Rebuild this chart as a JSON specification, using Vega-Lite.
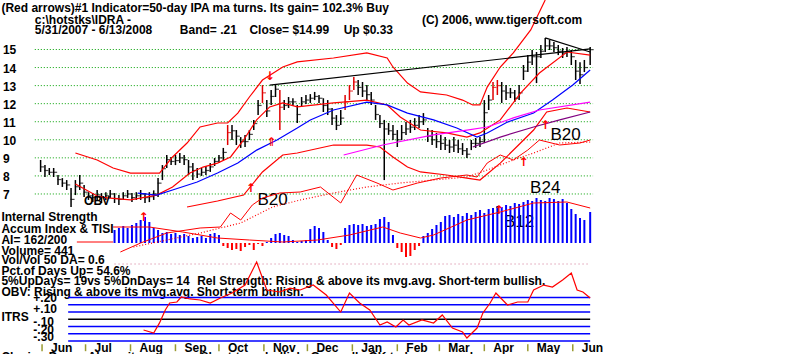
{
"$schema":"https://vega.github.io/schema/vega-lite/v6.json",
"width":800,"height":354,"autosize":"none","padding":0,"background":"white",
"config":{"view":{"stroke":null},"font":"Liberation Sans"},
"datasets":{
"bars":[
{"d":"2007-05-31","h":8.88,"l":8.22,"c":8.5},{"d":"2007-06-03","h":8.6,"l":7.94,"c":8.3},{"d":"2007-06-06","h":8.44,"l":8.05,"c":8.2},{"d":"2007-06-09","h":8.44,"l":7.94,"c":8.2},{"d":"2007-06-12","h":8.05,"l":7.5,"c":7.8},{"d":"2007-06-15","h":7.88,"l":7.39,"c":7.6},{"d":"2007-06-18","h":7.77,"l":7.22,"c":7.5},{"d":"2007-06-21","h":7.33,"l":6.28,"c":6.7},{"d":"2007-06-24","h":7.77,"l":6.94,"c":7.4},{"d":"2007-06-27","h":8.05,"l":7.22,"c":7.6},{"d":"2007-06-30","h":7.5,"l":6.83,"c":7.1},
{"d":"2007-07-03","h":7.1,"l":6.67,"c":6.9},{"d":"2007-07-06","h":7.05,"l":6.55,"c":6.8},{"d":"2007-07-09","h":7.22,"l":6.67,"c":6.95},{"d":"2007-07-12","h":7.05,"l":6.5,"c":6.8},{"d":"2007-07-15","h":7.1,"l":6.67,"c":6.9},{"d":"2007-07-18","h":7.22,"l":6.78,"c":7.0},{"d":"2007-07-21","h":7.05,"l":6.5,"c":6.75},{"d":"2007-07-24","h":6.94,"l":6.39,"c":6.7},{"d":"2007-07-27","h":7.1,"l":6.67,"c":6.9},{"d":"2007-07-30","h":7.22,"l":6.78,"c":7.0},
{"d":"2007-08-02","h":7.05,"l":6.55,"c":6.8},{"d":"2007-08-05","h":7.1,"l":6.67,"c":6.9},{"d":"2007-08-08","h":7.22,"l":6.67,"c":7.0},{"d":"2007-08-11","h":7.05,"l":6.5,"c":6.8},{"d":"2007-08-14","h":7.1,"l":6.55,"c":6.85},{"d":"2007-08-17","h":7.2,"l":6.67,"c":7.0},{"d":"2007-08-20","h":7.88,"l":6.83,"c":7.6},{"d":"2007-08-23","h":8.6,"l":7.77,"c":8.4},{"d":"2007-08-26","h":9.16,"l":8.44,"c":8.9},{"d":"2007-08-29","h":9.05,"l":8.6,"c":8.8},
{"d":"2007-09-01","h":9.16,"l":8.6,"c":8.85},{"d":"2007-09-04","h":9.27,"l":8.71,"c":9.0},{"d":"2007-09-07","h":9.16,"l":8.6,"c":8.9},{"d":"2007-09-10","h":8.88,"l":8.05,"c":8.5},{"d":"2007-09-13","h":8.71,"l":7.77,"c":8.3},{"d":"2007-09-16","h":8.44,"l":7.88,"c":8.1},{"d":"2007-09-19","h":8.44,"l":8.0,"c":8.2},{"d":"2007-09-22","h":8.55,"l":8.05,"c":8.3},{"d":"2007-09-25","h":8.71,"l":8.22,"c":8.5},{"d":"2007-09-28","h":8.99,"l":8.55,"c":8.8},
{"d":"2007-10-01","h":9.16,"l":8.71,"c":9.0},{"d":"2007-10-04","h":9.55,"l":8.88,"c":9.3},{"d":"2007-10-07","h":10.82,"l":9.71,"c":10.4,"sig":1},{"d":"2007-10-10","h":10.82,"l":9.99,"c":10.5},{"d":"2007-10-13","h":10.54,"l":9.71,"c":10.2},{"d":"2007-10-16","h":10.15,"l":9.55,"c":9.9},{"d":"2007-10-19","h":10.27,"l":9.6,"c":9.9},{"d":"2007-10-22","h":10.54,"l":9.99,"c":10.3},{"d":"2007-10-25","h":11.1,"l":10.54,"c":10.9},{"d":"2007-10-28","h":12.2,"l":11.37,"c":11.9},{"d":"2007-10-31","h":13.03,"l":12.04,"c":12.6,"sig":1},
{"d":"2007-11-03","h":12.2,"l":11.26,"c":11.6},{"d":"2007-11-06","h":12.76,"l":11.93,"c":12.4},{"d":"2007-11-09","h":13.03,"l":12.37,"c":12.8},{"d":"2007-11-12","h":12.76,"l":10.54,"c":11.8,"sig":1},{"d":"2007-11-15","h":12.2,"l":11.65,"c":11.9},{"d":"2007-11-18","h":12.37,"l":11.76,"c":12.1},{"d":"2007-11-21","h":12.3,"l":11.87,"c":12.1},{"d":"2007-11-24","h":11.93,"l":10.93,"c":11.4},{"d":"2007-11-27","h":12.37,"l":11.82,"c":12.1},{"d":"2007-11-30","h":12.48,"l":11.98,"c":12.2},
{"d":"2007-12-03","h":12.53,"l":12.04,"c":12.3},{"d":"2007-12-06","h":12.65,"l":12.2,"c":12.4},{"d":"2007-12-09","h":12.48,"l":12.04,"c":12.3},{"d":"2007-12-12","h":12.3,"l":11.54,"c":11.9},{"d":"2007-12-15","h":12.2,"l":11.37,"c":11.7},{"d":"2007-12-18","h":11.76,"l":10.82,"c":11.2},{"d":"2007-12-21","h":11.37,"l":10.54,"c":10.8},{"d":"2007-12-24","h":11.65,"l":10.82,"c":11.2},{"d":"2007-12-27","h":12.48,"l":11.65,"c":12.1,"sig":1},{"d":"2007-12-30","h":13.03,"l":12.2,"c":12.7,"sig":1},
{"d":"2008-01-02","h":13.48,"l":12.76,"c":13.2,"sig":1},{"d":"2008-01-05","h":13.31,"l":12.48,"c":12.9},{"d":"2008-01-08","h":13.2,"l":12.37,"c":12.7},{"d":"2008-01-11","h":13.03,"l":12.2,"c":12.5},{"d":"2008-01-14","h":12.65,"l":11.93,"c":12.2},{"d":"2008-01-17","h":11.93,"l":11.1,"c":11.4},{"d":"2008-01-20","h":11.37,"l":10.65,"c":10.9},{"d":"2008-01-23","h":11.1,"l":7.77,"c":10.6},{"d":"2008-01-26","h":10.93,"l":10.27,"c":10.5},{"d":"2008-01-29","h":10.82,"l":9.99,"c":10.3},
{"d":"2008-02-01","h":10.54,"l":9.6,"c":10.0},{"d":"2008-02-04","h":10.82,"l":9.99,"c":10.4},{"d":"2008-02-07","h":10.98,"l":10.27,"c":10.6},{"d":"2008-02-10","h":11.1,"l":10.38,"c":10.7},{"d":"2008-02-13","h":11.2,"l":10.54,"c":10.8},{"d":"2008-02-16","h":11.37,"l":10.65,"c":11.0},{"d":"2008-02-19","h":11.48,"l":10.82,"c":11.1},{"d":"2008-02-22","h":10.65,"l":9.88,"c":10.2},{"d":"2008-02-25","h":10.54,"l":9.71,"c":10.0},{"d":"2008-02-28","h":10.38,"l":9.55,"c":9.9},
{"d":"2008-03-02","h":10.27,"l":9.43,"c":9.8},{"d":"2008-03-05","h":10.15,"l":9.43,"c":9.7},{"d":"2008-03-08","h":9.99,"l":9.27,"c":9.6},{"d":"2008-03-11","h":10.15,"l":9.32,"c":9.7},{"d":"2008-03-14","h":9.99,"l":9.27,"c":9.5},{"d":"2008-03-17","h":9.82,"l":9.16,"c":9.4},{"d":"2008-03-20","h":9.55,"l":8.99,"c":9.2},{"d":"2008-03-23","h":9.99,"l":9.43,"c":9.8},{"d":"2008-03-26","h":10.1,"l":9.55,"c":9.8},{"d":"2008-03-29","h":10.15,"l":9.6,"c":9.9},
{"d":"2008-04-01","h":12.2,"l":9.82,"c":11.5},{"d":"2008-04-04","h":12.48,"l":11.65,"c":12.2},{"d":"2008-04-07","h":13.2,"l":12.2,"c":12.9,"sig":1},{"d":"2008-04-10","h":13.31,"l":12.48,"c":13.0,"sig":1},{"d":"2008-04-13","h":13.2,"l":12.04,"c":12.7},{"d":"2008-04-16","h":13.03,"l":12.2,"c":12.6},{"d":"2008-04-19","h":12.87,"l":12.31,"c":12.6},{"d":"2008-04-22","h":12.76,"l":12.09,"c":12.3},{"d":"2008-04-25","h":13.03,"l":12.2,"c":12.6},{"d":"2008-04-28","h":14.14,"l":13.31,"c":13.8},
{"d":"2008-05-01","h":14.69,"l":13.75,"c":14.3},{"d":"2008-05-04","h":14.97,"l":14.14,"c":14.6},{"d":"2008-05-07","h":14.86,"l":13.14,"c":14.6},{"d":"2008-05-10","h":15.25,"l":14.53,"c":14.9},{"d":"2008-05-13","h":15.64,"l":14.86,"c":15.2},{"d":"2008-05-16","h":15.53,"l":14.97,"c":15.2},{"d":"2008-05-19","h":15.42,"l":14.86,"c":15.1},{"d":"2008-05-22","h":15.25,"l":14.69,"c":14.9},{"d":"2008-05-25","h":15.08,"l":14.53,"c":14.8},{"d":"2008-05-28","h":15.14,"l":14.58,"c":14.9},{"d":"2008-05-31","h":14.97,"l":14.14,"c":14.6},
{"d":"2008-06-03","h":14.42,"l":13.31,"c":13.8},{"d":"2008-06-06","h":14.3,"l":13.09,"c":13.6},{"d":"2008-06-09","h":14.42,"l":13.75,"c":14.0},{"d":"2008-06-13","h":15.14,"l":14.14,"c":14.99}
],
"plines":[
{"s":"upper","d":"2007-06-24","v":9.27},{"s":"upper","d":"2007-07-09","v":8.88},{"s":"upper","d":"2007-07-20","v":8.44},{"s":"upper","d":"2007-08-01","v":8.16},{"s":"upper","d":"2007-08-21","v":8.16},{"s":"upper","d":"2007-08-30","v":9.05},{"s":"upper","d":"2007-09-09","v":9.82},{"s":"upper","d":"2007-09-18","v":10.71},{"s":"upper","d":"2007-09-30","v":10.93},{"s":"upper","d":"2007-10-07","v":10.93},{"s":"upper","d":"2007-10-14","v":11.48},{"s":"upper","d":"2007-10-22","v":12.37},{"s":"upper","d":"2007-10-31","v":13.31},{"s":"upper","d":"2007-11-14","v":14.03},{"s":"upper","d":"2007-11-24","v":14.31},{"s":"upper","d":"2007-12-19","v":14.53},{"s":"upper","d":"2008-01-11","v":14.81},{"s":"upper","d":"2008-01-25","v":14.53},{"s":"upper","d":"2008-01-29","v":14.03},{"s":"upper","d":"2008-02-08","v":13.14},{"s":"upper","d":"2008-02-17","v":12.65},{"s":"upper","d":"2008-03-06","v":12.48},{"s":"upper","d":"2008-03-17","v":12.2},{"s":"upper","d":"2008-03-24","v":11.93},{"s":"upper","d":"2008-03-29","v":11.93},{"s":"upper","d":"2008-04-03","v":12.92},{"s":"upper","d":"2008-04-12","v":14.03},{"s":"upper","d":"2008-04-21","v":14.81},{"s":"upper","d":"2008-05-03","v":16.08},{"s":"upper","d":"2008-05-13","v":17.74},
{"s":"mid","d":"2007-06-24","v":7.55},{"s":"mid","d":"2007-06-29","v":7.33},{"s":"mid","d":"2007-07-09","v":6.89},{"s":"mid","d":"2007-07-16","v":6.78},{"s":"mid","d":"2007-08-01","v":6.67},{"s":"mid","d":"2007-08-19","v":6.94},{"s":"mid","d":"2007-08-30","v":7.39},{"s":"mid","d":"2007-09-11","v":8.16},{"s":"mid","d":"2007-09-20","v":8.49},{"s":"mid","d":"2007-09-30","v":8.71},{"s":"mid","d":"2007-10-09","v":9.05},{"s":"mid","d":"2007-10-18","v":9.99},{"s":"mid","d":"2007-10-27","v":11.1},{"s":"mid","d":"2007-11-05","v":11.82},{"s":"mid","d":"2007-11-14","v":12.04},{"s":"mid","d":"2007-11-24","v":11.82},{"s":"mid","d":"2007-12-19","v":12.04},{"s":"mid","d":"2008-01-11","v":12.2},{"s":"mid","d":"2008-01-25","v":11.93},{"s":"mid","d":"2008-02-03","v":11.26},{"s":"mid","d":"2008-02-17","v":10.54},{"s":"mid","d":"2008-03-06","v":10.38},{"s":"mid","d":"2008-03-20","v":10.15},{"s":"mid","d":"2008-03-29","v":10.38},{"s":"mid","d":"2008-04-12","v":11.1},{"s":"mid","d":"2008-04-26","v":12.59},{"s":"mid","d":"2008-05-09","v":13.7},{"s":"mid","d":"2008-05-28","v":14.86},{"s":"mid","d":"2008-06-13","v":14.69},
{"s":"lower","d":"2007-09-09","v":6.28},{"s":"lower","d":"2007-09-30","v":6.61},{"s":"lower","d":"2007-10-18","v":6.94},{"s":"lower","d":"2007-10-31","v":8.22},{"s":"lower","d":"2007-11-14","v":9.16},{"s":"lower","d":"2007-11-24","v":9.27},{"s":"lower","d":"2007-12-19","v":9.71},{"s":"lower","d":"2008-01-11","v":9.71},{"s":"lower","d":"2008-01-20","v":9.6},{"s":"lower","d":"2008-01-29","v":9.05},{"s":"lower","d":"2008-02-08","v":8.49},{"s":"lower","d":"2008-02-17","v":8.22},{"s":"lower","d":"2008-03-06","v":8.05},{"s":"lower","d":"2008-03-20","v":7.88},{"s":"lower","d":"2008-03-29","v":7.77},{"s":"lower","d":"2008-04-12","v":8.71},{"s":"lower","d":"2008-04-26","v":9.82},{"s":"lower","d":"2008-05-05","v":10.54},{"s":"lower","d":"2008-05-14","v":11.54},{"s":"lower","d":"2008-05-28","v":11.76},{"s":"lower","d":"2008-06-13","v":11.54},
{"s":"ma50","d":"2007-08-06","v":7.05},{"s":"ma50","d":"2007-08-19","v":6.94},{"s":"ma50","d":"2007-08-30","v":7.22},{"s":"ma50","d":"2007-09-16","v":7.66},{"s":"ma50","d":"2007-09-30","v":8.16},{"s":"ma50","d":"2007-10-14","v":8.71},{"s":"ma50","d":"2007-10-27","v":9.43},{"s":"ma50","d":"2007-11-10","v":9.99},{"s":"ma50","d":"2007-11-24","v":10.65},{"s":"ma50","d":"2007-12-03","v":11.1},{"s":"ma50","d":"2007-12-19","v":11.65},{"s":"ma50","d":"2008-01-11","v":12.09},{"s":"ma50","d":"2008-01-25","v":11.93},{"s":"ma50","d":"2008-02-08","v":11.48},{"s":"ma50","d":"2008-02-26","v":11.1},{"s":"ma50","d":"2008-03-13","v":10.65},{"s":"ma50","d":"2008-03-27","v":10.15},{"s":"ma50","d":"2008-04-03","v":10.38},{"s":"ma50","d":"2008-04-17","v":10.98},{"s":"ma50","d":"2008-05-05","v":11.48},{"s":"ma50","d":"2008-05-18","v":12.2},{"s":"ma50","d":"2008-06-01","v":13.03},{"s":"ma50","d":"2008-06-13","v":13.86},
{"s":"ma200","d":"2007-12-26","v":9.16},{"s":"ma200","d":"2008-01-22","v":9.71},{"s":"ma200","d":"2008-02-26","v":10.27},{"s":"ma200","d":"2008-03-20","v":10.54},{"s":"ma200","d":"2008-04-03","v":10.71},{"s":"ma200","d":"2008-04-21","v":11.21},{"s":"ma200","d":"2008-05-09","v":11.65},{"s":"ma200","d":"2008-06-13","v":12.09},
{"s":"ma65","d":"2008-03-24","v":9.6},{"s":"ma65","d":"2008-04-12","v":10.15},{"s":"ma65","d":"2008-05-05","v":10.71},{"s":"ma65","d":"2008-05-23","v":11.1},{"s":"ma65","d":"2008-06-13","v":11.54},
{"s":"trend1","d":"2007-11-05","v":13.03},{"s":"trend1","d":"2008-06-13","v":15.03},
{"s":"trend2","d":"2008-05-13","v":15.64},{"s":"trend2","d":"2008-06-13","v":14.86}
],
"ai":[
{"d":"2007-07-21","a":0.26},{"d":"2007-07-24","a":0.3},{"d":"2007-07-27","a":0.34},{"d":"2007-07-30","a":0.3},{"d":"2007-08-02","a":0.36},{"d":"2007-08-05","a":0.4},{"d":"2007-08-08","a":0.46},{"d":"2007-08-11","a":0.52},{"d":"2007-08-14","a":0.42},{"d":"2007-08-17","a":0.3},{"d":"2007-08-20","a":0.26},{"d":"2007-08-23","a":0.2},{"d":"2007-08-26","a":0.22},{"d":"2007-08-29","a":0.18},
{"d":"2007-09-01","a":0.2},{"d":"2007-09-04","a":0.16},{"d":"2007-09-07","a":0.18},{"d":"2007-09-10","a":0.14},{"d":"2007-09-13","a":0.1},{"d":"2007-09-16","a":0.12},{"d":"2007-09-19","a":0.14},{"d":"2007-09-22","a":0.1},{"d":"2007-09-25","a":0.18},{"d":"2007-09-28","a":0.2},
{"d":"2007-10-01","a":0.16},{"d":"2007-10-04","a":-0.06},{"d":"2007-10-07","a":-0.1},{"d":"2007-10-10","a":-0.14},{"d":"2007-10-13","a":-0.12},{"d":"2007-10-16","a":-0.16},{"d":"2007-10-19","a":-0.08},{"d":"2007-10-22","a":-0.04},{"d":"2007-10-25","a":-0.14},{"d":"2007-10-28","a":-0.02},{"d":"2007-10-31","a":-0.06},
{"d":"2007-11-03","a":0.02},{"d":"2007-11-06","a":0.1},{"d":"2007-11-09","a":0.18},{"d":"2007-11-12","a":0.2},{"d":"2007-11-15","a":0.16},{"d":"2007-11-18","a":0.14},{"d":"2007-11-21","a":0.06},{"d":"2007-11-24","a":0.02},{"d":"2007-11-27","a":0.04},{"d":"2007-11-30","a":0.06},
{"d":"2007-12-03","a":0.28},{"d":"2007-12-06","a":0.34},{"d":"2007-12-09","a":0.3},{"d":"2007-12-12","a":0.22},{"d":"2007-12-15","a":0.06},{"d":"2007-12-18","a":-0.08},{"d":"2007-12-21","a":-0.12},{"d":"2007-12-24","a":-0.04},{"d":"2007-12-27","a":0.3},{"d":"2007-12-30","a":0.36},
{"d":"2008-01-02","a":0.38},{"d":"2008-01-05","a":0.36},{"d":"2008-01-08","a":0.38},{"d":"2008-01-11","a":0.34},{"d":"2008-01-14","a":0.36},{"d":"2008-01-17","a":0.38},{"d":"2008-01-20","a":0.48},{"d":"2008-01-23","a":0.52},{"d":"2008-01-26","a":0.42},{"d":"2008-01-29","a":0.16},
{"d":"2008-02-01","a":-0.1},{"d":"2008-02-04","a":-0.18},{"d":"2008-02-07","a":-0.28},{"d":"2008-02-10","a":-0.26},{"d":"2008-02-13","a":-0.14},{"d":"2008-02-16","a":-0.06},{"d":"2008-02-19","a":0.14},{"d":"2008-02-22","a":0.2},{"d":"2008-02-25","a":0.28},{"d":"2008-02-28","a":0.36},
{"d":"2008-03-02","a":0.42},{"d":"2008-03-05","a":0.54},{"d":"2008-03-08","a":0.56},{"d":"2008-03-11","a":0.52},{"d":"2008-03-14","a":0.58},{"d":"2008-03-17","a":0.54},{"d":"2008-03-20","a":0.6},{"d":"2008-03-23","a":0.56},{"d":"2008-03-26","a":0.62},{"d":"2008-03-29","a":0.66},
{"d":"2008-04-01","a":0.6},{"d":"2008-04-04","a":0.68},{"d":"2008-04-07","a":0.7},{"d":"2008-04-10","a":0.74},{"d":"2008-04-13","a":0.72},{"d":"2008-04-16","a":0.76},{"d":"2008-04-19","a":0.74},{"d":"2008-04-22","a":0.8},{"d":"2008-04-25","a":0.78},{"d":"2008-04-28","a":0.82},
{"d":"2008-05-01","a":0.86},{"d":"2008-05-04","a":0.84},{"d":"2008-05-07","a":0.9},{"d":"2008-05-10","a":0.86},{"d":"2008-05-13","a":0.84},{"d":"2008-05-16","a":0.9},{"d":"2008-05-19","a":0.88},{"d":"2008-05-22","a":0.84},{"d":"2008-05-25","a":0.88},{"d":"2008-05-28","a":0.8},{"d":"2008-05-31","a":0.68},
{"d":"2008-06-03","a":0.58},{"d":"2008-06-06","a":0.5},{"d":"2008-06-09","a":0.46},{"d":"2008-06-13","a":0.62}
],
"ailines":[
{"s":"ma","d":"2007-07-20","v":0.32},{"s":"ma","d":"2007-08-14","v":0.32},{"s":"ma","d":"2007-09-06","v":0.22},{"s":"ma","d":"2007-09-30","v":0.1},{"s":"ma","d":"2007-10-22","v":0.06},{"s":"ma","d":"2007-11-14","v":0.02},{"s":"ma","d":"2007-12-08","v":0.06},{"s":"ma","d":"2007-12-30","v":0.16},{"s":"ma","d":"2008-01-22","v":0.32},{"s":"ma","d":"2008-02-03","v":0.2},{"s":"ma","d":"2008-02-17","v":0.1},{"s":"ma","d":"2008-02-26","v":0.16},{"s":"ma","d":"2008-03-20","v":0.46},{"s":"ma","d":"2008-04-12","v":0.62},{"s":"ma","d":"2008-05-05","v":0.8},{"s":"ma","d":"2008-05-28","v":0.82},{"s":"ma","d":"2008-06-13","v":0.7},
{"s":"tisi","d":"2007-07-25","v":-0.18},{"s":"tisi","d":"2007-08-08","v":0.0},{"s":"tisi","d":"2007-08-26","v":0.2},{"s":"tisi","d":"2007-09-18","v":0.3},{"s":"tisi","d":"2007-10-02","v":0.32},{"s":"tisi","d":"2007-10-09","v":0.6},{"s":"tisi","d":"2007-10-16","v":0.46},{"s":"tisi","d":"2007-10-24","v":0.76},{"s":"tisi","d":"2007-10-31","v":0.9},{"s":"tisi","d":"2007-11-12","v":1.0},{"s":"tisi","d":"2007-11-26","v":1.02},{"s":"tisi","d":"2007-12-10","v":1.12},{"s":"tisi","d":"2007-12-24","v":0.8},{"s":"tisi","d":"2008-01-04","v":1.36},{"s":"tisi","d":"2008-01-18","v":1.2},{"s":"tisi","d":"2008-01-29","v":1.06},{"s":"tisi","d":"2008-02-15","v":1.2},{"s":"tisi","d":"2008-03-02","v":1.3},{"s":"tisi","d":"2008-03-20","v":1.36},{"s":"tisi","d":"2008-03-27","v":1.32},{"s":"tisi","d":"2008-04-03","v":1.6},{"s":"tisi","d":"2008-04-12","v":1.76},{"s":"tisi","d":"2008-04-21","v":1.66},{"s":"tisi","d":"2008-05-01","v":1.86},{"s":"tisi","d":"2008-05-09","v":2.06},{"s":"tisi","d":"2008-05-23","v":1.96},{"s":"tisi","d":"2008-06-06","v":2.0},{"s":"tisi","d":"2008-06-13","v":2.06},
{"s":"zero","d":"2007-06-25","v":0.02},{"s":"zero","d":"2007-07-20","v":0.02}
],
"tisima":[
{"d":"2007-08-03","v":-0.08},{"d":"2007-09-18","v":0.2},{"d":"2007-10-16","v":0.4},{"d":"2007-11-07","v":0.72},{"d":"2007-11-26","v":0.86},{"d":"2007-12-19","v":1.0},{"d":"2008-01-11","v":1.12},{"d":"2008-02-03","v":1.2},{"d":"2008-02-26","v":1.26},{"d":"2008-03-20","v":1.32},{"d":"2008-04-03","v":1.46},{"d":"2008-04-21","v":1.66},{"d":"2008-05-05","v":1.8},{"d":"2008-05-23","v":2.0},{"d":"2008-06-13","v":2.02}
],
"itrs":[
{"d":"2007-08-10","v":-0.148},{"d":"2007-08-17","v":-0.19},{"d":"2007-08-21","v":-0.05},{"d":"2007-08-25","v":0.128},{"d":"2007-08-28","v":0.224},{"d":"2007-09-02","v":0.238},{"d":"2007-09-05","v":0.307},{"d":"2007-09-11","v":0.28},{"d":"2007-09-18","v":0.266},{"d":"2007-09-25","v":0.224},{"d":"2007-10-02","v":0.293},{"d":"2007-10-10","v":0.362},{"d":"2007-10-19","v":0.472},{"d":"2007-10-27","v":0.79},{"d":"2007-11-03","v":0.404},{"d":"2007-11-12","v":0.376},{"d":"2007-11-19","v":0.43},{"d":"2007-11-26","v":0.404},{"d":"2007-12-05","v":0.472},{"d":"2007-12-14","v":0.334},{"d":"2007-12-24","v":0.1},{"d":"2007-12-30","v":0.362},{"d":"2008-01-06","v":0.224},{"d":"2008-01-13","v":0.128},{"d":"2008-01-20","v":-0.079},{"d":"2008-01-25","v":-0.038},{"d":"2008-01-31","v":-0.107},{"d":"2008-02-05","v":-0.01},{"d":"2008-02-09","v":-0.079},{"d":"2008-02-18","v":-0.01},{"d":"2008-02-26","v":-0.052},{"d":"2008-03-03","v":0.059},{"d":"2008-03-10","v":-0.121},{"d":"2008-03-17","v":-0.176},{"d":"2008-03-20","v":-0.259},{"d":"2008-03-27","v":-0.121},{"d":"2008-03-31","v":0.086},{"d":"2008-04-05","v":0.224},{"d":"2008-04-09","v":0.362},{"d":"2008-04-17","v":0.197},{"d":"2008-04-24","v":0.238},{"d":"2008-05-01","v":0.238},{"d":"2008-05-05","v":0.404},{"d":"2008-05-12","v":0.472},{"d":"2008-05-18","v":0.445},{"d":"2008-05-25","v":0.541},{"d":"2008-05-31","v":0.638},{"d":"2008-06-04","v":0.404},{"d":"2008-06-08","v":0.376},{"d":"2008-06-13","v":0.293}
],
"boldtext":[
{"t":"(Red arrows)#1 Indicator=50-day IPA ma turns. Its gain= 102.3% Buy","d":"2007-05-04","p":17.08},
{"t":"c:\\hotstks\\IDRA  -","d":"2007-05-27","p":16.41},
{"t":"(C) 2006, www.tigersoft.com","d":"2008-02-18","p":16.41},
{"t":"5/31/2007 - 6/13/2008","d":"2007-05-27","p":15.86},
{"t":"Band= .21","d":"2007-09-04","p":15.86},
{"t":"Close= $14.99","d":"2007-10-22","p":15.86},
{"t":"Up $0.33","d":"2007-12-26","p":15.86},
{"t":"OBV","d":"2007-06-30","p":6.39},
{"t":"Internal Strength","d":"2007-05-04","p":5.5},
{"t":"Accum Index & TISI","d":"2007-05-04","p":4.84},
{"t":"AI= 162/200","d":"2007-05-04","p":4.23},
{"t":"Volume= 441","d":"2007-05-04","p":3.62},
{"t":"Vol/Vol 50 DA= 0.6","d":"2007-05-04","p":3.12},
{"t":"Pct.of Days Up= 54.6%","d":"2007-05-04","p":2.51},
{"t":"5%UpDays= 19vs 5%DnDays= 14","d":"2007-05-04","p":1.96},
{"t":"Rel Strength: Rising & above its mvg.avg. Short-term bullish.","d":"2007-09-16","p":1.96},
{"t":"OBV: Rising & above its mvg.avg. Short-term bullish.","d":"2007-05-04","p":1.35},
{"t":"Closing Power Above its mvg.avg. Short-term bullish. Generally OK to buy on weakness.","d":"2007-05-04","p":-2.24}
],
"blabels":[
{"t":"B20","d":"2007-11-07","p":6.39},{"t":"B20","d":"2008-05-27","p":9.99},{"t":"B24","d":"2008-05-13","p":7.05},{"t":"B12","d":"2008-04-25","p":5.17}
],
"arrows":[
{"d":"2007-11-05","p":13.53,"g":"↓"},{"d":"2007-11-06","p":9.88,"g":"⇑"},{"d":"2007-10-23","p":7.33,"g":"↑"},{"d":"2008-05-13","p":10.82,"g":"↑"},{"d":"2008-04-28","p":8.77,"g":"↑"}
],
"aiarrows":[
{"d":"2007-08-10","a":0.52,"g":"↑"},{"d":"2008-04-11","a":0.66,"g":"↑"}
],
"itrslabels":[
{"t":"+.20","d":"2007-05-26","v":0.238},{"t":"+.10","d":"2007-05-26","v":0.086},{"t":"ITRS","d":"2007-05-04","v":-0.024},{"t":"-.10","d":"2007-05-26","v":-0.093},{"t":"-.20","d":"2007-05-26","v":-0.203},{"t":"-.30","d":"2007-05-26","v":-0.3}
],
"months":[
{"m":"Jun","d":"2007-06-01"},{"m":"Jul","d":"2007-07-01"},{"m":"Aug","d":"2007-08-01"},{"m":"Sep","d":"2007-09-01"},{"m":"Oct","d":"2007-10-01"},{"m":"Nov","d":"2007-11-01"},{"m":"Dec","d":"2007-12-01"},{"m":"Jan","d":"2008-01-01"},{"m":"Feb","d":"2008-02-01"},{"m":"Mar","d":"2008-03-01"},{"m":"Apr","d":"2008-04-01"},{"m":"May","d":"2008-05-01"},{"m":"Jun","d":"2008-06-01"}
]
},
"layer":[
{"layer":[
 {"data":{"values":[{"p":7},{"p":8},{"p":9},{"p":10},{"p":11},{"p":12},{"p":13},{"p":14},{"p":15}]},
  "mark":{"type":"rule","color":"#00a000","strokeDash":[1,2],"strokeWidth":1},
  "encoding":{"x":{"datum":{"year":2007,"month":5,"date":27,"utc":true},"type":"temporal","scale":{"type":"utc","domain":[1178150400000,1225818000000]},"axis":null},
   "x2":{"datum":{"year":2008,"month":6,"date":15,"utc":true}},
   "y":{"field":"p","type":"quantitative","scale":{"domain":[-1.86,17.74],"nice":false,"zero":false},"axis":null}}},
 {"data":{"values":[{"p":7},{"p":8},{"p":9},{"p":10},{"p":11},{"p":12},{"p":13},{"p":14},{"p":15}]},
  "mark":{"type":"text","align":"left","baseline":"middle","font":"Liberation Sans","fontSize":12,"fontWeight":"bold","color":"#000","dy":1},
  "encoding":{"x":{"datum":{"year":2007,"month":5,"date":5,"utc":true},"type":"temporal","scale":{"type":"utc","domain":[1178150400000,1225818000000]},"axis":null},
   "y":{"field":"p","type":"quantitative","scale":{"domain":[-1.86,17.74],"nice":false,"zero":false},"axis":null},
   "text":{"field":"p","type":"quantitative","format":"d"}}},
 {"data":{"name":"bars"},
  "mark":{"type":"rule","strokeWidth":1.5},
  "encoding":{"x":{"field":"d","type":"temporal","scale":{"type":"utc","domain":[1178150400000,1225818000000]},"axis":null},
   "y":{"field":"l","type":"quantitative","scale":{"domain":[-1.86,17.74],"nice":false,"zero":false},"axis":null},
   "y2":{"field":"h"},
   "color":{"condition":{"test":"datum.sig === 1","value":"#e00000"},"value":"#000000"}}},
 {"data":{"name":"bars"},
  "mark":{"type":"tick","orient":"horizontal","size":4,"thickness":1.2,"xOffset":1.5},
  "encoding":{"x":{"field":"d","type":"temporal","scale":{"type":"utc","domain":[1178150400000,1225818000000]},"axis":null},
   "y":{"field":"c","type":"quantitative","scale":{"domain":[-1.86,17.74],"nice":false,"zero":false},"axis":null},
   "color":{"condition":{"test":"datum.sig === 1","value":"#e00000"},"value":"#000000"}}},
 {"data":{"name":"plines"},
  "mark":{"type":"line","strokeWidth":1.2},
  "encoding":{"x":{"field":"d","type":"temporal","scale":{"type":"utc","domain":[1178150400000,1225818000000]},"axis":null},
   "y":{"field":"v","type":"quantitative","scale":{"domain":[-1.86,17.74],"nice":false,"zero":false},"axis":null},
   "stroke":{"field":"s","type":"nominal","legend":null,"scale":{"domain":["upper","mid","lower","ma50","ma200","ma65","trend1","trend2"],"range":["#ff0000","#ff0000","#ff0000","#0000ff","#ff00ff","#800080","#000000","#000000"]}}}},
 {"data":{"name":"arrows"},
  "mark":{"type":"text","align":"center","baseline":"middle","font":"DejaVu Sans","fontSize":12,"fontWeight":"bold","color":"#ff0000"},
  "encoding":{"x":{"field":"d","type":"temporal","scale":{"type":"utc","domain":[1178150400000,1225818000000]},"axis":null},
   "y":{"field":"p","type":"quantitative","scale":{"domain":[-1.86,17.74],"nice":false,"zero":false},"axis":null},
   "text":{"field":"g"}}},
 {"data":{"name":"blabels"},
  "mark":{"type":"text","align":"center","baseline":"alphabetic","font":"Liberation Sans","fontSize":17,"color":"#000"},
  "encoding":{"x":{"field":"d","type":"temporal","scale":{"type":"utc","domain":[1178150400000,1225818000000]},"axis":null},
   "y":{"field":"p","type":"quantitative","scale":{"domain":[-1.86,17.74],"nice":false,"zero":false},"axis":null},
   "text":{"field":"t"}}},
 {"data":{"name":"boldtext"},
  "mark":{"type":"text","align":"left","baseline":"alphabetic","font":"Liberation Sans","fontSize":12,"fontWeight":"bold","color":"#000"},
  "encoding":{"x":{"field":"d","type":"temporal","scale":{"type":"utc","domain":[1178150400000,1225818000000]},"axis":null},
   "y":{"field":"p","type":"quantitative","scale":{"domain":[-1.86,17.74],"nice":false,"zero":false},"axis":null},
   "text":{"field":"t"}}}
]},
{"layer":[
 {"data":{"values":[{"a":-0.42}]},
  "mark":{"type":"rule","color":"#d07090","strokeDash":[1,3],"strokeWidth":1},
  "encoding":{"x":{"datum":{"year":2007,"month":7,"date":21,"utc":true},"type":"temporal","scale":{"type":"utc","domain":[1178150400000,1225818000000]},"axis":null},
   "x2":{"datum":{"year":2008,"month":6,"date":13,"utc":true}},
   "y":{"field":"a","type":"quantitative","scale":{"domain":[-2.22,4.86],"nice":false,"zero":false},"axis":null}}},
 {"data":{"name":"ai"},
  "mark":{"type":"rule","strokeWidth":2},
  "encoding":{"x":{"field":"d","type":"temporal","scale":{"type":"utc","domain":[1178150400000,1225818000000]},"axis":null},
   "y":{"field":"a","type":"quantitative","scale":{"domain":[-2.22,4.86],"nice":false,"zero":false},"axis":null},
   "y2":{"datum":0},
   "color":{"condition":{"test":"datum.a < 0","value":"#ff0000"},"value":"#0000ff"}}},
 {"data":{"name":"ailines"},
  "mark":{"type":"line","strokeWidth":1},
  "encoding":{"x":{"field":"d","type":"temporal","scale":{"type":"utc","domain":[1178150400000,1225818000000]},"axis":null},
   "y":{"field":"v","type":"quantitative","scale":{"domain":[-2.22,4.86],"nice":false,"zero":false},"axis":null},
   "stroke":{"field":"s","type":"nominal","legend":null,"scale":{"domain":["ma","tisi","zero"],"range":["#000000","#000000","#ff0000"]}}}},
 {"data":{"name":"tisima"},
  "mark":{"type":"line","strokeWidth":1.2,"color":"#ff0000","strokeDash":[1,2]},
  "encoding":{"x":{"field":"d","type":"temporal","scale":{"type":"utc","domain":[1178150400000,1225818000000]},"axis":null},
   "y":{"field":"v","type":"quantitative","scale":{"domain":[-2.22,4.86],"nice":false,"zero":false},"axis":null}}},
 {"data":{"name":"aiarrows"},
  "mark":{"type":"text","align":"center","baseline":"middle","font":"DejaVu Sans","fontSize":12,"fontWeight":"bold","color":"#ff0000"},
  "encoding":{"x":{"field":"d","type":"temporal","scale":{"type":"utc","domain":[1178150400000,1225818000000]},"axis":null},
   "y":{"field":"a","type":"quantitative","scale":{"domain":[-2.22,4.86],"nice":false,"zero":false},"axis":null},
   "text":{"field":"g"}}}
]},
{"layer":[
 {"data":{"values":[{"v":0.3},{"v":0.2},{"v":0.1},{"v":0},{"v":-0.1},{"v":-0.2},{"v":-0.3}]},
  "mark":{"type":"rule","strokeWidth":1.5},
  "encoding":{"x":{"datum":{"year":2007,"month":6,"date":19,"utc":true},"type":"temporal","scale":{"type":"utc","domain":[1178150400000,1225818000000]},"axis":null},
   "x2":{"datum":{"year":2008,"month":6,"date":13,"utc":true}},
   "y":{"field":"v","type":"quantitative","scale":{"domain":[-0.479,4.403],"nice":false,"zero":false},"axis":null},
   "color":{"condition":{"test":"datum.v === 0","value":"#000000"},"value":"#0000ff"}}},
 {"data":{"name":"itrs"},
  "mark":{"type":"line","strokeWidth":1.2,"color":"#ff0000"},
  "encoding":{"x":{"field":"d","type":"temporal","scale":{"type":"utc","domain":[1178150400000,1225818000000]},"axis":null},
   "y":{"field":"v","type":"quantitative","scale":{"domain":[-0.479,4.403],"nice":false,"zero":false},"axis":null}}},
 {"data":{"name":"months"},
  "mark":{"type":"rule","color":"#9a9a30","strokeWidth":1.5},
  "encoding":{"x":{"field":"d","type":"temporal","scale":{"type":"utc","domain":[1178150400000,1225818000000]},"axis":null},
   "y":{"datum":-0.345,"type":"quantitative","scale":{"domain":[-0.479,4.403],"nice":false,"zero":false},"axis":null},
   "y2":{"datum":-0.44}}},
 {"data":{"name":"months"},
  "mark":{"type":"text","align":"left","baseline":"top","dx":9,"font":"Liberation Sans","fontSize":12,"fontWeight":"bold","color":"#000"},
  "encoding":{"x":{"field":"d","type":"temporal","scale":{"type":"utc","domain":[1178150400000,1225818000000]},"axis":null},
   "y":{"datum":-0.322,"type":"quantitative","scale":{"domain":[-0.479,4.403],"nice":false,"zero":false},"axis":null},
   "text":{"field":"m"}}},
 {"data":{"name":"itrslabels"},
  "mark":{"type":"text","align":"left","baseline":"alphabetic","font":"Liberation Sans","fontSize":12,"fontWeight":"bold","color":"#000"},
  "encoding":{"x":{"field":"d","type":"temporal","scale":{"type":"utc","domain":[1178150400000,1225818000000]},"axis":null},
   "y":{"field":"v","type":"quantitative","scale":{"domain":[-0.479,4.403],"nice":false,"zero":false},"axis":null},
   "text":{"field":"t"}}}
]}
],
"resolve":{"scale":{"y":"independent"}}
}
